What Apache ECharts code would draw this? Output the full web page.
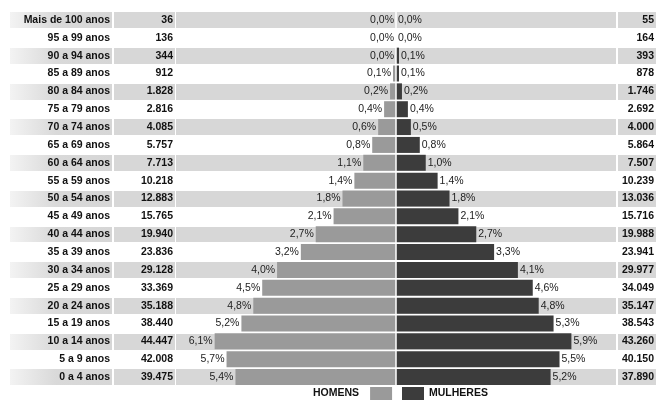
<!DOCTYPE html>
<html>
<head>
<meta charset="utf-8">
<script src="https://cdn.jsdelivr.net/npm/echarts@6/dist/echarts.min.js"></script>
<style>
html,body{margin:0;padding:0;background:#fff;}
#main{width:657px;height:401px;}
</style>
</head>
<body>
<div id="main"></div>
<script>
// faixas etarias (de cima para baixo)
var ages = ['Mais de 100 anos','95 a 99 anos','90 a 94 anos','85 a 89 anos','80 a 84 anos','75 a 79 anos',
  '70 a 74 anos','65 a 69 anos','60 a 64 anos','55 a 59 anos','50 a 54 anos','45 a 49 anos','40 a 44 anos',
  '35 a 39 anos','30 a 34 anos','25 a 29 anos','20 a 24 anos','15 a 19 anos','10 a 14 anos','5 a 9 anos','0 a 4 anos'];
var menCount = [36,136,344,912,1828,2816,4085,5757,7713,10218,12883,15765,19940,23836,29128,33369,35188,38440,44447,42008,39475];
var womenCount = [55,164,393,878,1746,2692,4000,5864,7507,10239,13036,15716,19988,23941,29977,34049,35147,38543,43260,40150,37890];
var menPct = [0.0,0.0,0.0,0.1,0.2,0.4,0.6,0.8,1.1,1.4,1.8,2.1,2.7,3.2,4.0,4.5,4.8,5.2,6.1,5.7,5.4];
var womenPct = [0.0,0.0,0.1,0.1,0.2,0.4,0.5,0.8,1.0,1.4,1.8,2.1,2.7,3.3,4.1,4.6,4.8,5.3,5.9,5.5,5.2];

var FONT = '"Liberation Sans", Arial, sans-serif';
var GRAY = '#d7d7d7';

function thousands(n){ return String(n).replace(/\B(?=(\d{3})+(?!\d))/g, '.'); }
function pct(v){ return Math.abs(v).toFixed(1).replace('.', ',') + '%'; }

function rowAxis(gi, showLabel, fmt, firstColor){
  return {
    type: 'category', gridIndex: gi, data: ages, inverse: true, position: 'right',
    axisLine: {show: false}, axisTick: {show: false},
    axisLabel: {show: showLabel, inside: true, margin: 2, interval: 0, formatter: fmt,
      fontFamily: FONT, fontWeight: 'bold', fontSize: 10.5, color: '#111'},
    splitArea: {show: true, interval: 0, areaStyle: {color: [firstColor || GRAY, '#ffffff']}},
    splitLine: {show: true, interval: 0, lineStyle: {color: '#fff', width: 2}}
  };
}

var myChart = echarts.init(document.getElementById('main'));
var labelGrad = new echarts.graphic.LinearGradient(0, 0, 1, 0, [
  {offset: 0, color: '#f3f3f3'}, {offset: 0.45, color: '#d9d9d9'}, {offset: 1, color: '#d6d6d6'}
]);

myChart.setOption({
  animation: false,
  grid: [
    {left: 10, top: 11, width: 102, height: 375},
    {left: 114, top: 11, width: 61, height: 375},
    {left: 176, top: 11, width: 440, height: 375},
    {left: 618, top: 11, right: 0, height: 375}
  ],
  xAxis: [
    {type: 'value', gridIndex: 0, show: false, min: 0, max: 1},
    {type: 'value', gridIndex: 1, show: false, min: 0, max: 1},
    {type: 'value', gridIndex: 2, show: false, min: -7.4, max: 7.4},
    {type: 'value', gridIndex: 3, show: false, min: 0, max: 1}
  ],
  yAxis: [
    rowAxis(0, true, function(v){ return v; }, labelGrad),
    rowAxis(1, true, function(v, i){ return thousands(menCount[i]); }),
    rowAxis(2, false),
    rowAxis(3, true, function(v, i){ return thousands(womenCount[i]); })
  ],
  legend: [
    {data: ['HOMENS'], left: 313, top: 387, padding: 0, align: 'right', selectedMode: false,
      icon: 'rect', itemWidth: 22, itemHeight: 13,
      textStyle: {fontFamily: FONT, fontWeight: 'bold', fontSize: 10.5, color: '#111', padding: [0, 6, 0, 0]}},
    {data: ['MULHERES'], left: 402, top: 387, padding: 0, align: 'left', selectedMode: false,
      icon: 'rect', itemWidth: 22, itemHeight: 13,
      textStyle: {fontFamily: FONT, fontWeight: 'bold', fontSize: 10.5, color: '#111'}}
  ],
  series: [
    {
      name: 'HOMENS', type: 'bar', xAxisIndex: 2, yAxisIndex: 2,
      data: menPct.map(function(v){ return -v; }),
      barWidth: 16, barGap: '-100%',
      itemStyle: {color: '#9a9a9a'},
      label: {show: true, position: 'left', distance: 2, formatter: function(p){ return pct(p.value); },
        fontFamily: FONT, fontSize: 10.5, color: '#222'}
    },
    {
      name: 'MULHERES', type: 'bar', xAxisIndex: 2, yAxisIndex: 2,
      data: womenPct,
      barWidth: 16, barGap: '-100%',
      itemStyle: {color: '#3c3c3c'},
      label: {show: true, position: 'right', distance: 2, formatter: function(p){ return pct(p.value); },
        fontFamily: FONT, fontSize: 10.5, color: '#222'},
      markLine: {silent: true, symbol: 'none', label: {show: false},
        lineStyle: {color: '#fff', width: 1.5, type: 'solid'}, data: [{xAxis: 0}]}
    }
  ]
});
</script>
</body>
</html>
